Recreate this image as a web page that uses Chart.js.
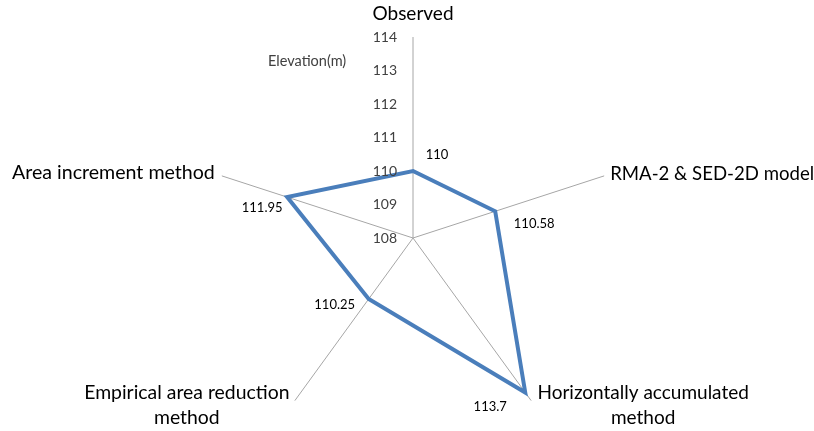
<!DOCTYPE html>
<html>
<head>
<meta charset="utf-8">
<script src="https://cdn.jsdelivr.net/npm/chart.js@4/dist/chart.umd.min.js"></script>
<style>
  html, body { margin: 0; padding: 0; background: #fff; overflow: hidden; }
  #wrap { position: relative; width: 814px; height: 470px; }
</style>
</head>
<body>
<div id="wrap"><canvas id="c"></canvas></div>
<script>
// Methods compared (one spoke each)
const categories = [
  'Observed',
  'RMA-2 & SED-2D model',
  'Horizontally accumulated method',
  'Empirical area reduction method',
  'Area increment method'
];
// Wrapped text for the spoke labels
const categoryLines = [
  ['Observed'],
  ['RMA-2 & SED-2D model'],
  ['Horizontally accumulated', 'method'],
  ['Empirical area reduction', 'method'],
  ['Area increment method']
];
// Elevation (m) for each method
const elevation = [110, 110.58, 113.7, 110.25, 111.95];
// Radial axis tick labels
const tickValues = [108, 109, 110, 111, 112, 113, 114];
const axisTitle = 'Elevation(m)';

const FONT = 'Lato, "Liberation Sans", sans-serif';

// Placement of spoke labels relative to each spoke tip
const spokeLabelStyle = [
  { dx: 0,    dy: -23, align: 'center', size: 19 },
  { dx: 6,    dy: -2,  align: 'left',   size: 18.6 },
  { dx: 112,  dy: -8,  align: 'center', size: 19 },
  { dx: -108, dy: -8,  align: 'center', size: 19.4 },
  { dx: -7,   dy: -3,  align: 'right',  size: 19.6 }
];
// Placement of value labels relative to each data point
const valueLabelStyle = [
  { dx: 24,  dy: -16 },
  { dx: 39,  dy: 13 },
  { dx: -35, dy: 14 },
  { dx: -34, dy: 6 },
  { dx: -25, dy: 11 }
];

const overlay = {
  id: 'overlay',
  afterDatasetsDraw(chart) {
    const ctx = chart.ctx;
    const r = chart.scales.r;
    ctx.save();
    ctx.textBaseline = 'middle';

    // Tick labels along the vertical spoke
    ctx.font = '14px ' + FONT;
    ctx.fillStyle = '#404040';
    ctx.textAlign = 'right';
    tickValues.forEach(v => {
      const p = r.getPointPositionForValue(0, v);
      ctx.fillText(String(v), r.xCenter - 16, p.y);
    });

    // Axis title
    ctx.font = '14.5px ' + FONT;
    ctx.textAlign = 'left';
    ctx.fillStyle = '#404040';
    ctx.fillText(axisTitle, 268, 61);

    // Spoke labels
    ctx.fillStyle = '#000';
    categoryLines.forEach((lines, i) => {
      const tip = r.getPointPositionForValue(i, r.max);
      const s = spokeLabelStyle[i];
      ctx.font = s.size + 'px ' + FONT;
      ctx.textAlign = s.align;
      lines.forEach((t, k) => ctx.fillText(t, tip.x + s.dx, tip.y + s.dy + k * 25));
    });

    // Value labels
    ctx.font = '13px ' + FONT;
    ctx.fillStyle = '#000';
    ctx.textAlign = 'center';
    const meta = chart.getDatasetMeta(0);
    meta.data.forEach((pt, i) => {
      const s = valueLabelStyle[i];
      ctx.fillText(String(elevation[i]), pt.x + s.dx, pt.y + s.dy);
    });
    ctx.restore();
  }
};

new Chart(document.getElementById('c'), {
  type: 'radar',
  data: {
    labels: categories,
    datasets: [{
      data: elevation,
      borderColor: '#4a7ebb',
      borderWidth: 4,
      borderJoinStyle: 'miter',
      backgroundColor: 'rgba(0,0,0,0)',
      fill: false,
      pointRadius: 0,
      pointHoverRadius: 0,
      tension: 0
    }]
  },
  options: {
    responsive: true,
    maintainAspectRatio: false,
    animation: false,
    events: [],
    layout: { padding: { left: 12, right: 0, top: 37, bottom: 31 } },
    plugins: { legend: { display: false }, tooltip: { enabled: false } },
    scales: {
      r: {
        min: 108,
        max: 114,
        ticks: { display: false, stepSize: 1 },
        grid: { display: false },
        angleLines: { display: true, color: '#a6a6a6', lineWidth: 1 },
        pointLabels: { display: false }
      }
    }
  },
  plugins: [overlay]
});
</script>
</body>
</html>
